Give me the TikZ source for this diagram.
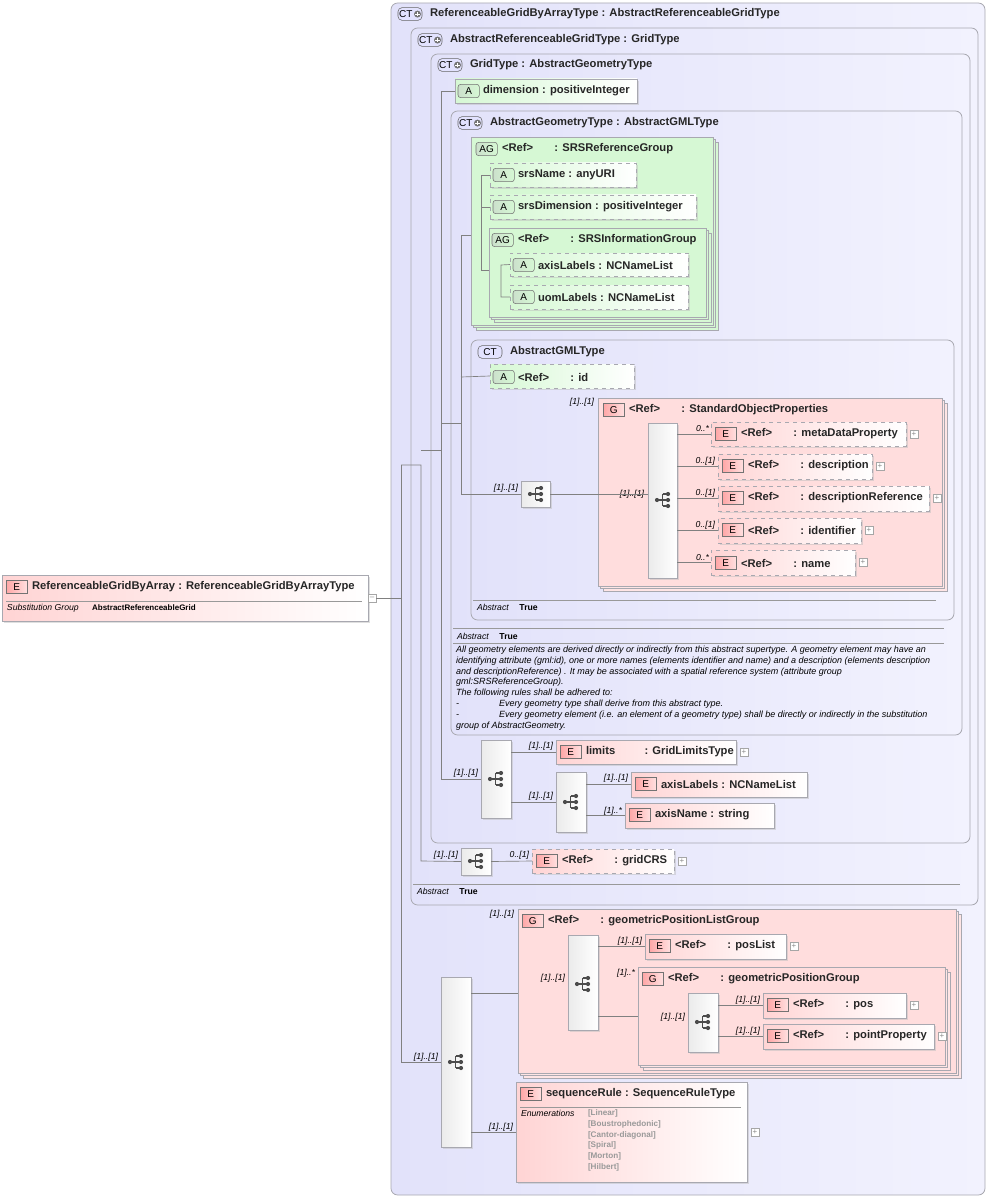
\documentclass[tikz,border=0pt]{standalone}
\usepackage{fontspec}
\setmainfont{Liberation Sans}
\usetikzlibrary{shadows}
\definecolor{lav}{HTML}{E2E2FA}
\definecolor{lavb}{HTML}{F2F2FE}
\definecolor{bord}{HTML}{A8A8B0}
\definecolor{redf}{HTML}{FFD4D4}
\definecolor{grnf}{HTML}{D6F8D4}
\definecolor{ln}{HTML}{808080}
\newcommand\mkbox[6]{\node[#1,anchor=north west,minimum width={(#5-#3)*0.75pt},minimum height={(#6-#4)*0.75pt}] (#2) at (#3,#4) {};}
\newcommand\hd[3]{\node[lbl,anchor=west] at (#1,#2) {#3};}
\newcommand\ml[3]{\node[mult,anchor=south east] at (#1,#2) {#3};}
\tikzset{
 every node/.style={inner sep=0,outer sep=0},
 lbl/.style={font=\fontsize{8.4}{9}\selectfont\bfseries,text=black!85},
 mult/.style={font=\fontsize{6.5}{7}\selectfont\itshape},
 ct/.style={draw=bord,rounded corners=5pt,left color=lav,right color=lavb,line width=0.6pt},
 el/.style={draw=bord,left color=redf,right color=white,drop shadow={shadow xshift=1.5pt,shadow yshift=-1.5pt,fill=black!25}},
 eld/.style={el,dashed},
 attr/.style={draw=bord,left color=grnf,right color=white,drop shadow={shadow xshift=1.5pt,shadow yshift=-1.5pt,fill=black!25}},
 attrd/.style={attr,dashed},
 grp/.style={draw=bord,fill=redf!80,double copy shadow={shadow xshift=2pt,shadow yshift=-2pt,fill=redf!60,draw=bord}},
 agrp/.style={draw=bord,fill=grnf,double copy shadow={shadow xshift=2pt,shadow yshift=-2pt,fill=grnf,draw=bord}},
 sq/.style={draw=bord,left color=black!8,right color=white,drop shadow={shadow xshift=1.2pt,shadow yshift=-1.2pt,fill=black!25}},
 con/.style={draw=ln,line width=0.5pt},
 bE/.style={draw=black!55,left color=red!35,right color=red!12,minimum width=16pt,minimum height=10pt,font=\fontsize{7.5}{8}\selectfont,anchor=west},
 bA/.style={draw=black!55,left color=green!40!black!20,right color=grnf,minimum width=16pt,minimum height=10pt,font=\fontsize{7.5}{8}\selectfont,anchor=west,rounded corners=2pt},
 bCT/.style={draw=black!60,fill=lav!70!blue!30,rounded corners=3pt,minimum width=18pt,minimum height=9.5pt,font=\fontsize{7.5}{8}\selectfont,anchor=west},
 plus/.style={draw=black!35,fill=white,minimum size=6pt,font=\fontsize{6}{6}\selectfont,text=black!45},
 pics/seqi/.style={code={
   \fill[black!70] (-7,0) circle (2.1);
   \draw[black!70,line width=0.8pt] (-7,0)--(-1.5,0) (-1.5,-6)--(-1.5,6) (-1.5,-6)--(4,-6) (-1.5,6)--(4,6) (-1.5,0)--(4,0);
   \fill[black!70] (4,-6) circle (2.1) (4,0) circle (2.1) (4,6) circle (2.1);}}
}
\newcommand\CT[3]{\node[bCT] at (#1,#2) {CT\,\tikz[baseline=-2.5pt]{\fill[black!55] circle (2.6pt);\draw[white,line width=0.6pt] (-1.6pt,0)--(1.6pt,0) (0,-1.6pt)--(0,1.6pt);}};\hd{#1+32}{#2}{#3}}
\newcommand\CTs[3]{\node[bCT] at (#1,#2) {CT};\hd{#1+32}{#2}{#3}}
\newcommand\E[3]{\node[bE] at (#1-2,#2) {E};\hd{#1+24}{#2}{#3}}
\newcommand\G[3]{\node[bE] at (#1-2,#2) {G};\hd{#1+24}{#2}{#3}}
\newcommand\A[3]{\node[bA] at (#1-4,#2) {A};\hd{#1+21}{#2}{#3}}
\newcommand\AG[3]{\node[bA] at (#1-4,#2) {AG};\hd{#1+22}{#2}{#3}}
\begin{document}
\begin{tikzpicture}[x=0.75pt,y=-0.75pt]
\useasboundingbox (0,0) rectangle (991,1198);
% containers
\mkbox{ct}{ct1}{391}{3}{985}{1195}
\CT{398}{14}{ReferenceableGridByArrayType : AbstractReferenceableGridType}
\mkbox{ct}{ct2}{411}{28}{978}{905}
\CT{418}{40}{AbstractReferenceableGridType : GridType}
\mkbox{ct}{ct3}{431}{54}{970}{843}
\CT{438}{65}{GridType : AbstractGeometryType}
\mkbox{attr}{dim}{455}{79}{637}{103}
\A{462}{91}{dimension : positiveInteger}
\mkbox{ct}{ct4}{451}{111}{962}{735}
\CT{458}{123}{AbstractGeometryType : AbstractGMLType}
% SRSReferenceGroup
\mkbox{agrp}{srsg}{471}{137}{713}{325}
\AG{480}{149}{<Ref>\hspace{16pt}: SRSReferenceGroup}
\mkbox{attrd}{srsn}{490}{163}{636}{187}
\A{497}{175}{srsName : anyURI}
\mkbox{attrd}{srsd}{490}{195}{696}{219}
\A{497}{207}{srsDimension : positiveInteger}
\mkbox{agrp}{srsi}{489}{228}{706}{317}
\AG{496}{240}{<Ref>\hspace{16pt}: SRSInformationGroup}
\mkbox{attrd}{axl}{510}{253}{688}{276}
\A{517}{265}{axisLabels : NCNameList}
\mkbox{attrd}{uom}{510}{285}{688}{309}
\A{517}{297}{uomLabels : NCNameList}
% AbstractGMLType
\mkbox{ct}{ct5}{471}{340}{954}{620}
\CTs{478}{352}{AbstractGMLType}
\mkbox{attrd}{gid}{490}{364}{634}{388}
\A{497}{377}{<Ref>\hspace{16pt}: id}
\mkbox{sq}{sqa}{521}{481}{550}{507}
\pic at (537,494) {seqi};
\ml{518}{492}{[1]..[1]}
\mkbox{grp}{sop}{598}{398}{942}{586}
\G{605}{410}{<Ref>\hspace{16pt}: StandardObjectProperties}
\ml{594}{406}{[1]..[1]}
\mkbox{sq}{sqb}{648}{423}{677}{578}
\pic at (664,500) {seqi};
\ml{644}{498}{[1]..[1]}
\mkbox{eld}{mdp}{711}{422}{906}{446}\E{717}{434}{<Ref>\hspace{16pt}: metaDataProperty}\ml{709}{432}{0..*}
\mkbox{eld}{dsc}{718}{454}{872}{479}\E{724}{466}{<Ref>\hspace{16pt}: description}\ml{715}{465}{0..[1]}
\mkbox{eld}{dsr}{718}{486}{929}{511}\E{724}{498}{<Ref>\hspace{16pt}: descriptionReference}\ml{715}{497}{0..[1]}
\mkbox{eld}{idf}{718}{518}{861}{543}\E{724}{530}{<Ref>\hspace{16pt}: identifier}\ml{715}{529}{0..[1]}
\mkbox{eld}{nme}{711}{550}{855}{575}\E{717}{563}{<Ref>\hspace{16pt}: name}\ml{709}{561}{0..*}
\foreach \n in {mdp,dsc,dsr,idf,nme} \node[plus,anchor=west] (p\n) at ([xshift=3pt]\n.east) {+};
\draw[black!40] (473,600)--(936,600);
\node[mult,anchor=west] at (477,607) {Abstract\hspace{8pt}\upshape\bfseries True};
% annotation
\draw[black!40] (453,628)--(944,628) (453,643)--(944,643);
\node[mult,anchor=west] at (457,636) {Abstract\hspace{8pt}\upshape\bfseries True};
\node[mult,anchor=north west,align=left,font=\fontsize{6.75}{8.1}\selectfont\itshape] (ann) at (456,646) {All geometry elements are derived directly or indirectly from this abstract supertype. A geometry element may have an\\identifying attribute (gml:id), one or more names (elements identifier and name) and a description (elements description\\and descriptionReference) . It may be associated with a spatial reference system (attribute group\\gml:SRSReferenceGroup).\\The following rules shall be adhered to:\\-\hspace{30pt}Every geometry type shall derive from this abstract type.\\-\hspace{30pt}Every geometry element (i.e. an element of a geometry type) shall be directly or indirectly in the substitution\\group of AbstractGeometry.};
% grid sequence
\mkbox{sq}{sqc}{481}{740}{511}{818}
\pic at (497,779) {seqi};
\ml{478}{777}{[1]..[1]}
\mkbox{el}{lim}{556}{740}{736}{764}\E{562}{752}{limits\hspace{22pt}: GridLimitsType}\ml{553}{750}{[1]..[1]}
\node[plus,anchor=west] (plim) at ([xshift=3pt]lim.east) {+};
\mkbox{sq}{sqd}{556}{772}{586}{832}
\pic at (572,802) {seqi};
\ml{553}{800}{[1]..[1]}
\mkbox{el}{gal}{631}{772}{807}{797}\E{637}{784}{axisLabels : NCNameList}\ml{628}{782}{[1]..[1]}
\mkbox{el}{gan}{625}{803}{774}{828}\E{631}{815}{axisName : string}\ml{622}{815}{[1]..*}
% gridCRS
\mkbox{sq}{sqe}{461}{848}{491}{875}
\pic at (477,861) {seqi};
\ml{458}{859}{[1]..[1]}
\mkbox{eld}{crs}{532}{849}{674}{873}\E{538}{861}{<Ref>\hspace{16pt}: gridCRS}\ml{529}{859}{0..[1]}
\node[plus,anchor=west] (pcrs) at ([xshift=3pt]crs.east) {+};
\draw[black!40] (413,884)--(960,884);
\node[mult,anchor=west] at (417,891) {Abstract\hspace{8pt}\upshape\bfseries True};
% big sequence
\mkbox{sq}{sqf}{441}{977}{471}{1147}
\pic at (457,1062) {seqi};
\ml{438}{1061}{[1]..[1]}
\mkbox{grp}{gpl}{518}{909}{956}{1073}
\G{524}{921}{<Ref>\hspace{16pt}: geometricPositionListGroup}
\ml{514}{918}{[1]..[1]}
\mkbox{sq}{sqg}{568}{935}{598}{1030}
\pic at (584,984) {seqi};
\ml{565}{982}{[1]..[1]}
\mkbox{el}{pls}{645}{934}{786}{959}\E{651}{946}{<Ref>\hspace{16pt}: posList}\ml{642}{945}{[1]..[1]}
\node[plus,anchor=west] (ppls) at ([xshift=3pt]pls.east) {+};
\mkbox{grp}{gpg}{638}{967}{945}{1065}
\G{644}{979}{<Ref>\hspace{16pt}: geometricPositionGroup}
\ml{635}{977}{[1]..*}
\mkbox{sq}{sqh}{688}{993}{718}{1052}
\pic at (704,1022) {seqi};
\ml{685}{1021}{[1]..[1]}
\mkbox{el}{pos}{763}{993}{906}{1018}\E{769}{1005}{<Ref>\hspace{16pt}: pos}\ml{760}{1004}{[1]..[1]}
\mkbox{el}{ppt}{763}{1024}{934}{1049}\E{769}{1036}{<Ref>\hspace{16pt}: pointProperty}\ml{760}{1035}{[1]..[1]}
\node[plus,anchor=west] (ppos) at ([xshift=3pt]pos.east) {+};
\node[plus,anchor=west] (pppt) at ([xshift=3pt]ppt.east) {+};
\mkbox{el}{seqr}{516}{1082}{747}{1182}
\E{522}{1094}{sequenceRule : SequenceRuleType}
\ml{513}{1131}{[1]..[1]}
\node[plus,anchor=west] (psr) at ([xshift=3pt]seqr.east) {+};
\draw[black!40] (520,1107)--(741,1107);
\node[mult,anchor=north west] at (521,1110) {Enumerations};
\node[anchor=north west,align=left,font=\fontsize{6.1}{8}\selectfont\bfseries,text=black!40] at (588,1110) {{[Linear]}\\{}{[Boustrophedonic]}\\{}{[Cantor-diagonal]}\\{}{[Spiral]}\\{}{[Morton]}\\{}{[Hilbert]}};
% root element
\mkbox{el}{root}{2}{575}{368}{621}
\E{8}{587}{ReferenceableGridByArray : ReferenceableGridByArrayType}
\draw[black!40] (6,601)--(362,601);
\node[mult,anchor=west] at (7,608) {Substitution Group\hspace{10pt}\upshape\bfseries\fontsize{6}{7}\selectfont AbstractReferenceableGrid};
\node[plus] (proot) at (372,598) {--};
% connectors
\draw[con] (proot.east)--(401,598);
\draw[con] (401,465)--(401,1062)--(sqf.west|-0,1062);
\draw[con] (401,465)--(421,465)--(421,861)--(sqe.west);
\draw[con] (421,450)--(441,450);
\draw[con] (dim.west)--(441,91)--(441,779)--(sqc.west);
\draw[con] (441,423)--(461,423);
\draw[con] (srsg.west|-0,235)--(461,235)--(461,494)--(sqa.west);
\draw[con] (461,377)--(gid.west);
\draw[con] (srsn.west)--(481,175)--(481,270)--(srsi.west|-0,270);
\draw[con] (481,207)--(srsd.west);
\draw[con] (axl.west)--(501,265)--(501,297)--(uom.west);
\draw[con] (sqa.east)--(sqb.west|-sqa.east);
\foreach \t in {mdp,dsc,dsr,idf,nme} \draw[con] (sqb.east|-\t.west)--(\t.west);
\draw[con] (sqc.east|-lim.west)--(lim.west);
\draw[con] (sqc.east|-sqd.west)--(sqd.west);
\draw[con] (sqd.east|-gal.west)--(gal.west);
\draw[con] (sqd.east|-gan.west)--(gan.west);
\draw[con] (sqe.east)--(crs.west);
\draw[con] (sqf.east|-0,993)--(gpl.west|-0,993);
\draw[con] (sqf.east|-0,1132)--(seqr.west|-0,1132);
\draw[con] (sqg.east|-pls.west)--(pls.west);
\draw[con] (sqg.east|-0,1016)--(gpg.west|-0,1016);
\draw[con] (sqh.east|-pos.west)--(pos.west);
\draw[con] (sqh.east|-ppt.west)--(ppt.west);
\end{tikzpicture}
\end{document}
